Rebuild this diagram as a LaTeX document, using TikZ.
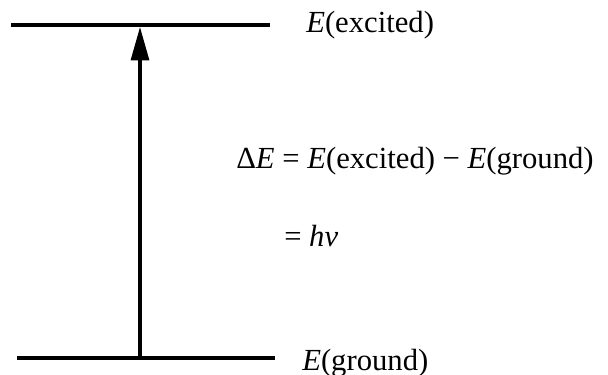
\documentclass[tikz,border=0pt]{standalone}
\usepackage{fontspec}
\setmainfont{Liberation Serif}
\usetikzlibrary{arrows.meta,positioning}
\tikzset{
    level/.style={line width=2.3pt},
    label/.style={inner sep=0pt,anchor=west,font=\fontsize{23}{27}\selectfont},
    jump/.style={line width=2.3pt,-{Triangle[length=25pt,width=13.5pt]}}
}
\begin{document}
\begin{tikzpicture}[x=0.75pt,y=-0.75pt]
        % Page size
        \useasboundingbox (0,0) rectangle (608,375);
        % Energy levels
        \coordinate (exL) at (11,25);
        \coordinate (exR) at (270,25);
        \coordinate (grL) at (17,358);
        \coordinate (grR) at (275,358);
        \draw[level] (exL) -- (exR);
        \draw[level] (grL) -- (grR);
        % Transition arrow
        \coordinate (up) at (140,27);
        \coordinate (lo) at (140,358);
        \draw[jump] (lo) -- (up);
        % Labels
        \node[label] (excited) at (306,25) {\textit{E}(excited)};
        \node[label] (ground) at (302,363) {\textit{E}(ground)};
        \node[label] (delta) at (236,161) {Δ\textit{E} = \textit{E}(excited) − \textit{E}(ground)};
        \node[label] (hnu) at (284,236) {= \textit{hν}};
    \end{tikzpicture}
\end{document}
